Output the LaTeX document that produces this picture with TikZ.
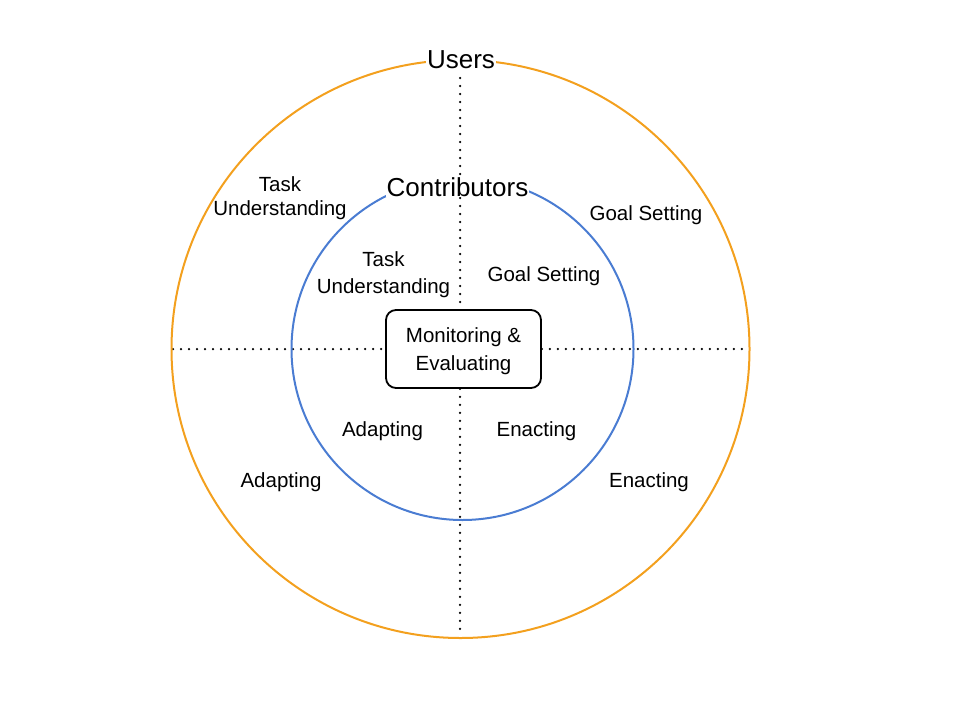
\documentclass[tikz,border=0pt]{standalone}
\usepackage{fontspec}
\setmainfont{Liberation Sans}
\definecolor{usrorange}{RGB}{243,160,30}
\definecolor{conblue}{RGB}{74,124,210}
\begin{document}
\begin{tikzpicture}[x=1pt,y=-1pt,
  lbl/.style={font=\fontsize{20.5}{25}\selectfont, align=center, inner sep=0pt, anchor=base},
  big/.style={font=\fontsize{26}{30}\selectfont, fill=white, inner sep=1pt, anchor=base},
  dotline/.style={line width=2.5pt, line cap=round, dash pattern=on 0pt off 8pt, black},
  ring/.style={line width=2pt}]
\useasboundingbox (0,0) rectangle (960,720);
\coordinate (oc) at (460.5,349);
\coordinate (ic) at (462.5,349);
\coordinate (top) at (460,78);
\coordinate (bot) at (460,636);
\coordinate (lft) at (173,349);
\coordinate (rgt) at (749,349);
\node[draw, line width=1.8pt, rounded corners=10pt, minimum width=155pt, minimum height=78pt,
  align=center, inner sep=0pt, text depth=0pt, font=\fontsize{20.5}{28}\selectfont] (me) at (463.5,349)
  {Monitoring \&\\Evaluating};
\draw[dotline] (top) -- (top |- me.north);
\draw[dotline] (bot |- me.south) -- (bot);
\draw[dotline] (lft) -- (me.west);
\draw[dotline] (me.east) -- (rgt);
\draw[ring, usrorange] (oc) circle[radius=289];
\draw[ring, conblue] (ic) circle[radius=171];
\node[big] (users) at (461,68) {Users};
\node[big] (contrib) at (457.5,196) {Contributors};
\node[lbl, font=\fontsize{20.5}{24}\selectfont] (otask) at (280,215) {Task\\Understanding};
\node[lbl] (ogoal) at (646,220) {Goal Setting};
\node[lbl, font=\fontsize{20.5}{27}\selectfont] (itask) at (383.5,293) {Task\\Understanding};
\node[lbl] (igoal) at (544,281) {Goal Setting};
\node[lbl] (iadapt) at (382.5,436) {Adapting};
\node[lbl] (ienact) at (536.5,436) {Enacting};
\node[lbl] (oadapt) at (281,487) {Adapting};
\node[lbl] (oenact) at (649,487) {Enacting};
\end{tikzpicture}
\end{document}
